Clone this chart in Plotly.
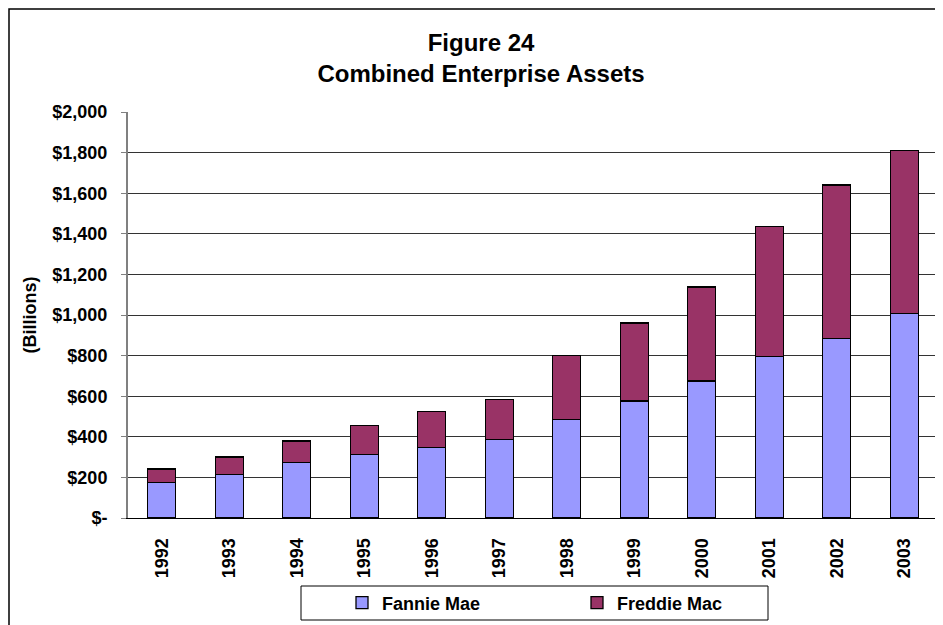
import plotly.graph_objects as go

years = ["1992", "1993", "1994", "1995", "1996", "1997", "1998", "1999", "2000", "2001", "2002", "2003"]
fannie_mae = [175, 216, 274, 314, 347, 388, 486, 576, 675, 794, 884, 1007]
freddie_mac = [66, 84, 106, 140, 179, 197, 316, 384, 463, 642, 757, 803]
y_tick_vals = [0, 200, 400, 600, 800, 1000, 1200, 1400, 1600, 1800, 2000]
y_tick_text = ["$-", "$200", "$400", "$600", "$800", "$1,000", "$1,200", "$1,400", "$1,600", "$1,800", "$2,000"]

FONT = "Arial, Liberation Sans, sans-serif"

fig = go.Figure()
fig.add_trace(go.Bar(x=years, y=fannie_mae, name="Fannie Mae",
                     marker=dict(color="#9999FF", line=dict(color="black", width=1.3))))
fig.add_trace(go.Bar(x=years, y=freddie_mac, name="Freddie Mac",
                     marker=dict(color="#993366", line=dict(color="black", width=1.3))))

# page offset: the browser body has an 8px margin
OFF = 8
W, H = 943 - OFF, 625 - OFF
L, R = 128 - OFF, 0
T = 112 - OFF
B = H - (518 - OFF)
pw = W - L - R
ph = H - T - B
band = 67.5  # px per category in the reference

def px_x(p):
    return (p - OFF - L) / pw

def px_y(p):
    return (H - B - (p - OFF)) / ph

fig.update_layout(
    width=W, height=H,
    barmode="stack",
    bargap=0.585,
    plot_bgcolor="white",
    paper_bgcolor="white",
    margin=dict(l=L, r=R, t=T, b=B, autoexpand=False),
    font=dict(family=FONT, size=17, color="black", weight="bold"),
    title=dict(text="Figure 24<br>Combined Enterprise Assets",
               font=dict(family=FONT, size=24, color="black", weight="bold"),
               x=(481 - OFF) / W, xanchor="center", xref="container",
               y=1 - 43 / H, yanchor="top", yref="container"),
    xaxis=dict(type="category", showgrid=False, tickangle=-90, ticks="",
               range=[-0.5, -0.5 + pw / band],
               ticklabelstandoff=12,
               tickfont=dict(family=FONT, size=18, color="black", weight="bold"),
               showline=True, linecolor="black", linewidth=1),
    yaxis=dict(range=[0, 2000], tickvals=y_tick_vals, ticktext=y_tick_text,
               tickfont=dict(family=FONT, size=18, color="black", weight="bold"),
               showgrid=True, gridcolor="#333333", gridwidth=1,
               zeroline=True, zerolinecolor="black", zerolinewidth=1,
               showline=True, linecolor="#808080", linewidth=2,
               ticks="outside", ticklen=5, tickcolor="#808080", tickwidth=1,
               ticklabelstandoff=10,
               title=dict(text="(Billions)", standoff=11,
                          font=dict(family=FONT, size=18, color="black", weight="bold"))),
    legend=dict(orientation="h", x=px_x(342), xanchor="left", y=px_y(603), yanchor="middle",
                entrywidth=190, entrywidthmode="pixels", bgcolor="rgba(0,0,0,0)",
                font=dict(family=FONT, size=18, color="black", weight="bold"),
                traceorder="normal"),
    showlegend=True,
)

# legend frame
fig.add_shape(type="rect", xref="paper", yref="paper",
              x0=px_x(301), x1=px_x(768), y0=px_y(620), y1=px_y(586),
              line=dict(color="black", width=1), fillcolor="rgba(0,0,0,0)", layer="above")
# outer chart frame (cropped at right and bottom)
fig.add_shape(type="rect", xref="paper", yref="paper",
              x0=px_x(9), x1=px_x(960), y0=px_y(640), y1=px_y(9),
              line=dict(color="black", width=1.5), fillcolor="rgba(0,0,0,0)", layer="above")

fig.write_html("out.html")
